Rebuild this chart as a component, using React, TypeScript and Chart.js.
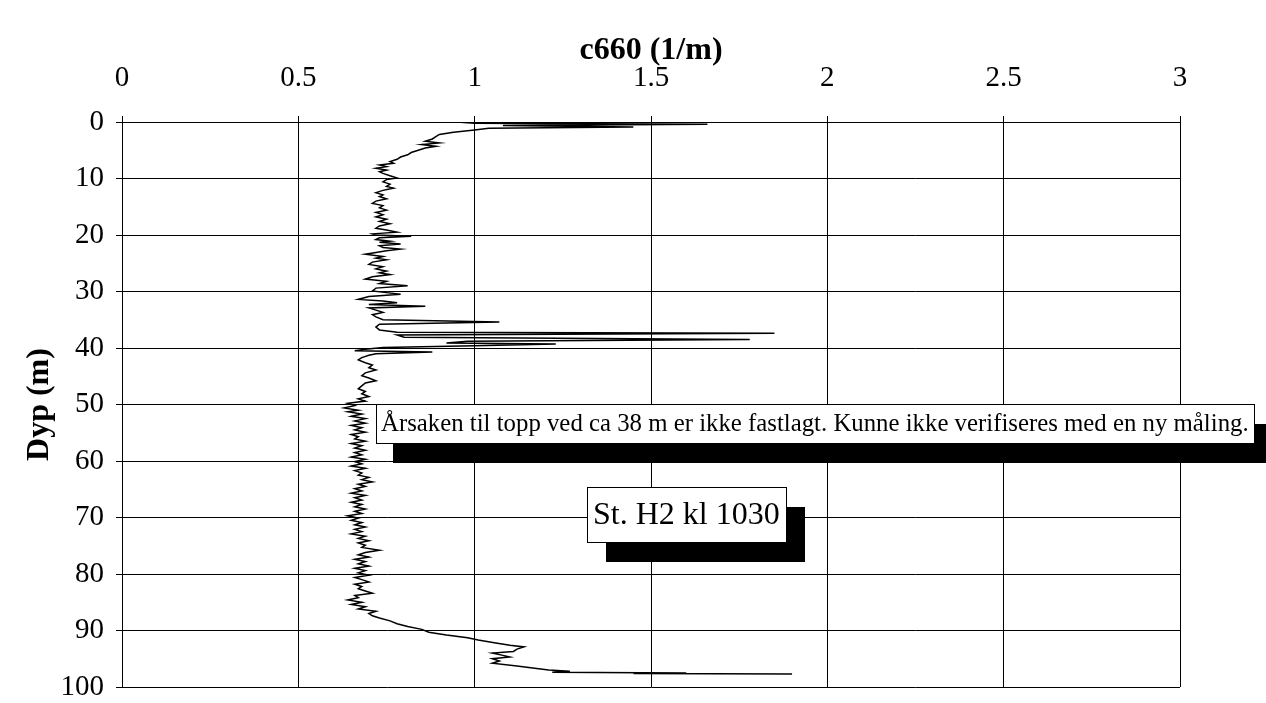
import React, { useEffect, useRef } from "react";
import { Chart, registerables } from "chart.js";

Chart.register(...registerables);

// Depth (m) of each sample
const DEPTH_M = [
  0.0, 0.2, 0.4, 0.6, 0.9, 1.1, 1.4, 1.8, 2.2, 2.6, 3.0, 3.4, 3.7, 4.0, 4.3, 4.6,
  5.0, 5.4, 5.8, 6.2, 6.6, 7.0, 7.3, 7.6, 7.9, 8.2, 8.5, 8.8, 9.1, 9.5, 9.9,
  10.2, 10.6, 11.0, 11.4, 11.7, 12.1, 12.5, 12.9, 13.2, 13.6, 14.0, 14.4, 14.8,
  15.2, 15.6, 16.0, 16.4, 16.8, 17.2, 17.6, 18.0, 18.4, 18.8, 19.1, 19.5, 19.8,
  20.0, 20.2, 20.5, 20.8, 21.1, 21.3, 21.6, 21.9, 22.2, 22.5, 22.8, 23.1, 23.4,
  23.8, 24.1, 24.4, 24.8, 25.2, 25.6, 26.0, 26.4, 26.7, 27.0, 27.4, 27.8, 28.2,
  28.6, 29.0, 29.4, 29.9, 30.2, 30.5, 30.9, 31.4, 31.7, 32.0, 32.3, 32.6, 32.9,
  33.3, 33.7, 34.1, 34.5, 35.0, 35.4, 35.8, 36.3, 36.8, 37.2, 37.4, 37.7, 38.1,
  38.5, 38.8, 39.1, 39.3, 39.6, 39.9, 40.2, 40.5, 40.7, 41.0, 41.3, 41.7, 42.1,
  42.6, 43.0, 43.5, 43.9, 44.4, 44.9, 45.3, 45.8, 46.2, 46.7, 47.2, 47.7, 48.1,
  48.6, 49.0, 49.4, 49.8, 50.2, 50.6, 51.0, 51.3, 51.7, 52.1, 52.5, 52.9, 53.3,
  53.7, 54.1, 54.5, 54.9, 55.3, 55.7, 56.1, 56.5, 56.9, 57.3, 57.7, 58.1, 58.5,
  58.9, 59.3, 59.7, 60.1, 60.5, 60.9, 61.3, 61.7, 62.1, 62.5, 62.9, 63.3, 63.7,
  64.1, 64.5, 64.9, 65.3, 65.7, 66.1, 66.5, 66.9, 67.3, 67.7, 68.1, 68.5, 68.9,
  69.3, 69.7, 70.1, 70.5, 70.9, 71.3, 71.7, 72.1, 72.5, 72.9, 73.3, 73.7, 74.1,
  74.5, 74.9, 75.3, 75.8, 76.2, 76.6, 77.0, 77.4, 77.8, 78.2, 78.6, 79.0, 79.4,
  79.8, 80.2, 80.6, 81.0, 81.4, 81.8, 82.2, 82.6, 83.0, 83.4, 83.8, 84.2, 84.6,
  85.0, 85.4, 85.8, 86.2, 86.6, 87.0, 87.4, 87.8, 88.3, 88.8, 89.3, 89.8, 90.3,
  90.8, 91.3, 91.7, 92.2, 92.6, 92.9, 93.3, 93.7, 94.0, 94.4, 94.7, 95.0, 95.4,
  95.8, 96.3, 96.7, 97.0, 97.2, 97.4, 97.5, 97.6, 97.7,
];

// Beam attenuation c660 (1/m) at each depth
const C660 = [
  0.95, 1.0, 1.66, 1.08, 1.45, 1.04, 1.0, 0.94, 0.9, 0.89, 0.88, 0.86, 0.9, 0.85, 0.89, 0.86,
  0.84, 0.82, 0.81, 0.79, 0.78, 0.76, 0.77, 0.73, 0.75, 0.72, 0.75, 0.73, 0.74, 0.76, 0.78,
  0.75, 0.74, 0.76, 0.75, 0.77, 0.74, 0.72, 0.74, 0.73, 0.75, 0.72, 0.71, 0.74,
  0.73, 0.75, 0.72, 0.74, 0.72, 0.75, 0.73, 0.76, 0.73, 0.72, 0.75, 0.78, 0.71,
  0.72, 0.82, 0.73, 0.72, 0.76, 0.73, 0.79, 0.73, 0.74, 0.79, 0.75, 0.72, 0.69,
  0.74, 0.72, 0.75, 0.71, 0.7, 0.74, 0.72, 0.75, 0.73, 0.76, 0.71, 0.69, 0.75,
  0.73, 0.81, 0.72, 0.71, 0.75, 0.79, 0.7, 0.67, 0.74, 0.78, 0.7, 0.86, 0.7,
  0.72, 0.74, 0.71, 0.72, 0.74, 1.07, 0.73, 0.72, 0.73, 0.78, 1.85, 0.78, 0.8,
  1.78, 0.98, 0.92, 1.23, 1.0, 0.74, 0.69, 0.66, 0.88, 0.72, 0.7, 0.68, 0.67,
  0.69, 0.71, 0.7, 0.72, 0.69, 0.68, 0.7, 0.72, 0.69, 0.68, 0.67, 0.69, 0.68,
  0.7, 0.67, 0.69, 0.64, 0.66, 0.63, 0.67, 0.64, 0.68, 0.65, 0.69, 0.66, 0.69,
  0.65, 0.68, 0.66, 0.69, 0.65, 0.67, 0.66, 0.69, 0.65, 0.68, 0.66, 0.69, 0.66,
  0.68, 0.65, 0.69, 0.66, 0.68, 0.65, 0.69, 0.66, 0.68, 0.67, 0.7, 0.68, 0.71,
  0.67, 0.69, 0.66, 0.68, 0.65, 0.69, 0.66, 0.68, 0.65, 0.68, 0.66, 0.69, 0.66,
  0.68, 0.64, 0.67, 0.65, 0.68, 0.66, 0.69, 0.66, 0.68, 0.65, 0.69, 0.67, 0.7,
  0.67, 0.69, 0.68, 0.73, 0.69, 0.67, 0.7, 0.66, 0.69, 0.67, 0.7, 0.66, 0.69,
  0.67, 0.7, 0.66, 0.68, 0.7, 0.66, 0.68, 0.67, 0.69, 0.71, 0.66, 0.67, 0.64,
  0.68, 0.65, 0.69, 0.67, 0.72, 0.7, 0.71, 0.73, 0.76, 0.78, 0.81, 0.85, 0.87,
  0.92, 0.98, 1.01, 1.06, 1.1, 1.14, 1.12, 1.11, 1.05, 1.08, 1.1, 1.05, 1.07,
  1.05, 1.12, 1.17, 1.21, 1.27, 1.22, 1.6, 1.45, 1.9,
];

const X_MIN = 0;
const X_MAX = 3;
const X_STEP = 0.5;
const Y_MIN = 0;
const Y_MAX = 100;
const Y_STEP = 10;

const X_TITLE = "c660 (1/m)";
const Y_TITLE = "Dyp (m)";
const NOTE_TEXT =
  "Årsaken til topp ved ca 38 m er ikke fastlagt. Kunne ikke verifiseres med en ny måling.";
const STATION_TEXT = "St. H2 kl 1030";

// anchor (top-left) of the two text boxes, in data units (c660, depth)
const NOTE_ANCHOR = [0.72, 49.9];
const STATION_ANCHOR = [1.318, 64.6];

const FONT = '"Liberation Serif", "Times New Roman", serif';

function drawNote(
  ctx: CanvasRenderingContext2D,
  left: number,
  top: number,
  text: string,
  size: number,
  h: number,
  padX: number,
  dx: number,
  dy: number
) {
  ctx.save();
  ctx.font = `${size}px ${FONT}`;
  const w = Math.round(ctx.measureText(text).width + 2 * padX);
  left = Math.round(left);
  top = Math.round(top);
  ctx.fillStyle = "#000";
  ctx.fillRect(left + dx, top + dy, w, h);
  ctx.fillStyle = "#fff";
  ctx.fillRect(left, top, w, h);
  ctx.strokeStyle = "#000";
  ctx.lineWidth = 1;
  ctx.strokeRect(left + 0.5, top + 0.5, w, h);
  ctx.fillStyle = "#000";
  ctx.textBaseline = "middle";
  ctx.textAlign = "left";
  ctx.fillText(text, left + padX, top + h / 2 + 1);
  ctx.restore();
}

const notesPlugin = {
  id: "notes",
  afterDraw(chart: any) {
    const { ctx } = chart;
    const xs = chart.scales.x;
    const ys = chart.scales.y;
    drawNote(
      ctx,
      xs.getPixelForValue(NOTE_ANCHOR[0]),
      ys.getPixelForValue(NOTE_ANCHOR[1]),
      NOTE_TEXT,
      24.8,
      39,
      5,
      17,
      20
    );
    drawNote(
      ctx,
      xs.getPixelForValue(STATION_ANCHOR[0]),
      ys.getPixelForValue(STATION_ANCHOR[1]),
      STATION_TEXT,
      32,
      55,
      6,
      19,
      20
    );
  },
};

export default function App() {
  const ref = useRef<HTMLCanvasElement | null>(null);

  useEffect(() => {
    if (!ref.current) return;
    const points = DEPTH_M.map((d, i) => ({ x: C660[i], y: d }));
    const tickFont = { family: FONT, size: 29 };
    const titleFont = { family: FONT, size: 32, weight: "bold" as const };
    const chart = new Chart(ref.current, {
      type: "scatter",
      data: {
        datasets: [
          {
            data: points,
            showLine: true,
            borderColor: "#000",
            borderWidth: 1.5,
            pointRadius: 0,
            tension: 0,
            fill: false,
          },
        ],
      },
      options: {
        responsive: false,
        animation: false,
        devicePixelRatio: 1,
        layout: { padding: { left: 0, top: 0, right: 86, bottom: 16 } },
        plugins: {
          legend: { display: false },
          tooltip: { enabled: false },
        },
        scales: {
          x: {
            type: "linear",
            position: "top",
            min: X_MIN,
            max: X_MAX,
            ticks: {
              stepSize: X_STEP,
              color: "#000",
              font: tickFont,
              padding: 20,
              maxRotation: 0,
              callback: (v: any) => `${+v}`,
            },
            grid: { color: "#000", lineWidth: 1, tickLength: 6 },
            border: { color: "#000", width: 1 },
            title: {
              display: true,
              text: X_TITLE,
              color: "#000",
              font: titleFont,
              padding: { top: 32, bottom: 0 },
            },
            afterFit(s: any) {
              s.height = 122;
              s.paddingLeft = 0;
              s.paddingRight = 0;
            },
          },
          y: {
            type: "linear",
            reverse: true,
            min: Y_MIN,
            max: Y_MAX,
            ticks: {
              stepSize: Y_STEP,
              color: "#000",
              font: tickFont,
              padding: 12,
              callback: (v: any) => `${+v}`,
            },
            grid: { color: "#000", lineWidth: 1, tickLength: 6 },
            border: { color: "#000", width: 1 },
            title: {
              display: true,
              text: Y_TITLE,
              color: "#000",
              font: titleFont,
              padding: { top: 21, bottom: 0 },
            },
            afterFit(s: any) {
              s.width = 122;
              s.paddingTop = 0;
              s.paddingBottom = 0;
            },
          },
        },
      },
      plugins: [notesPlugin],
    });
    return () => chart.destroy();
  }, []);

  return (
    <div
      style={{
        position: "fixed",
        left: 0,
        top: 0,
        width: 1266,
        height: 703,
        background: "#fff",
      }}
    >
      <canvas ref={ref} width={1266} height={703} style={{ display: "block" }} />
    </div>
  );
}
